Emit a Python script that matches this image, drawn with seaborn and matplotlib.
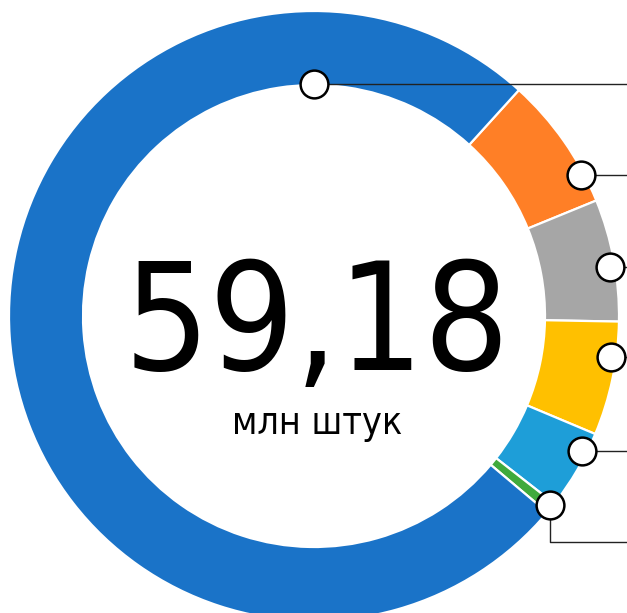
import numpy as np
import matplotlib
matplotlib.use("Agg")
import matplotlib.pyplot as plt
import seaborn as sns

# data (million units)
segments = ["orange", "gray", "yellow", "lightblue", "green", "blue"]
values = [4.20, 3.83, 3.57, 2.50, 0.35, 44.73]
colors = ["#FF7F26", "#A6A6A6", "#FFC000", "#1E9ED8", "#40AA3C", "#1A73C8"]
total_label = "59,18"
unit_label = "млн штук"

# layout (pixels, centre of the ring at origin)
W, H = 627, 613
cx, cy = 314, 316
r_out, r_in = 305, 231
marker_angles = [27.8, 9.4, -7.8, -26.7, -38.7, 90.0]
marker_radii = [302, 300, 300, 300, 303, 232]

sns.set_theme(style="white")
plt.rcParams["font.family"] = ["DejaVu Sans"]

fig = plt.figure(figsize=(W / 100, H / 100), dpi=100)
ax = fig.add_axes([0, 0, 1, 1])

ax.pie(
    values,
    colors=sns.color_palette(colors),
    radius=r_out,
    startangle=47.8,
    counterclock=False,
    wedgeprops=dict(width=r_out - r_in, edgecolor="white", linewidth=1.6),
)

# pie() resets the limits, so set them afterwards
ax.set_xlim(-cx, W - cx)
ax.set_ylim(-(H - cy), cy)
ax.set_aspect("equal")
ax.axis("off")

# leader markers and lines
for name, ang, rr in zip(segments, marker_angles, marker_radii):
    t = np.deg2rad(ang)
    mx, my = rr * np.cos(t), rr * np.sin(t)
    if name == "green":
        ly = -226
        ax.plot([mx, mx, W - cx], [my, ly, ly], color="#222222", lw=1.0, zorder=3)
    else:
        ax.plot([mx, W - cx], [my, my], color="#222222", lw=1.0, zorder=3)
    ax.scatter([mx], [my], s=400, facecolor="white", edgecolor="black",
               linewidth=1.8, zorder=4)

ax.text(3, cy - 370, total_label, ha="center", va="baseline",
        fontsize=108, fontstretch="condensed", fontweight="light",
        color="black")
ax.text(3, cy - 434, unit_label, ha="center", va="baseline",
        fontsize=27, fontstretch="condensed", fontweight="light",
        color="black")

fig.savefig("out.png", dpi=100)
